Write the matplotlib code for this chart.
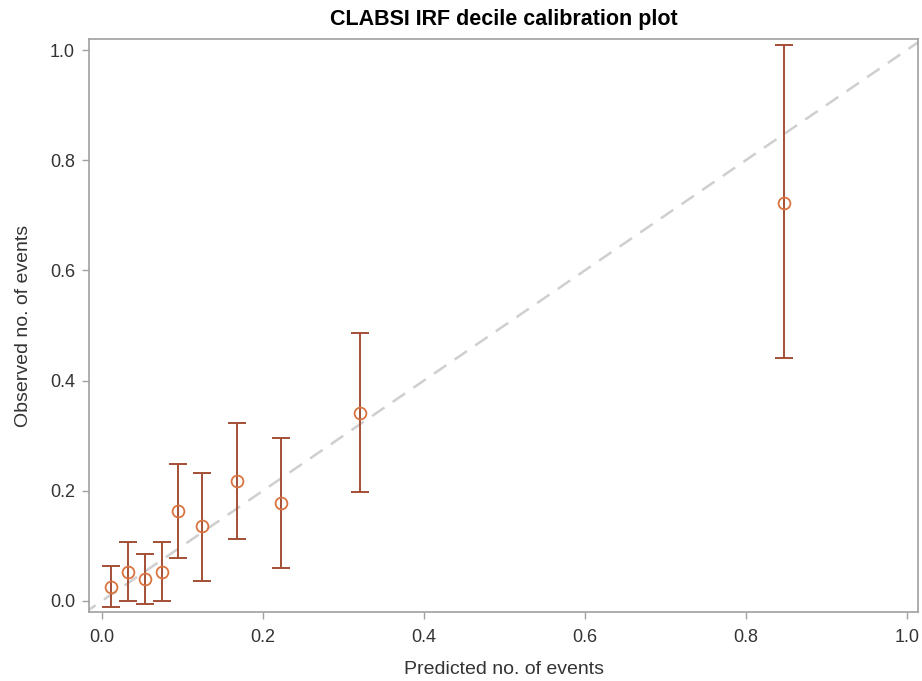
import numpy as np
import matplotlib.pyplot as plt

plt.rcParams['font.family'] = ['Liberation Sans', 'DejaVu Sans']

# decile calibration data
predicted = [0.011, 0.032, 0.054, 0.075, 0.095, 0.125, 0.168, 0.222, 0.321, 0.847]
observed = [0.026, 0.053, 0.040, 0.053, 0.163, 0.136, 0.217, 0.177, 0.341, 0.723]
lower = [-0.011, 0.000, -0.006, 0.000, 0.078, 0.037, 0.113, 0.059, 0.197, 0.441]
upper = [0.064, 0.107, 0.085, 0.107, 0.249, 0.233, 0.323, 0.296, 0.486, 1.009]
ticks = [0.0, 0.2, 0.4, 0.6, 0.8, 1.0]

obs = np.array(observed)
yerr = [obs - np.array(lower), np.array(upper) - obs]

fig = plt.figure(figsize=(9.22, 6.81), dpi=100)
ax = fig.add_axes([0.0965, 0.1013, 0.8992, 0.8414])

ax.plot([-0.1, 1.1], [-0.1, 1.1], linestyle=(0, (6, 4)), color='#cfcfcf', lw=1.8, zorder=1)

ax.errorbar(predicted, observed, yerr=yerr, fmt='none', ecolor='#a34f35',
            elinewidth=1.4, capsize=6.5, capthick=1.4, zorder=2)
ax.plot(predicted, observed, 'o', mfc='none', mec='#d9733f', ms=8.5, mew=1.3, zorder=3)

ax.set_xlim(-0.016, 1.014)
ax.set_ylim(-0.02, 1.02)
ax.set_xticks(ticks)
ax.set_yticks(ticks)
ax.set_xticklabels(['%.1f' % t for t in ticks])
ax.set_yticklabels(['%.1f' % t for t in ticks])

for s in ax.spines.values():
    s.set_color('#a0a0a0')
    s.set_linewidth(1.2)
ax.tick_params(colors='#a0a0a0', labelcolor='#333333', labelsize=13, length=5, width=1)
ax.tick_params(axis='x', pad=7)
ax.tick_params(axis='y', pad=5)

ax.set_xlabel('Predicted no. of events', fontsize=14, color='#333333', labelpad=11)
ax.set_ylabel('Observed no. of events', fontsize=14, color='#333333', labelpad=13)
ax.set_title('CLABSI IRF decile calibration plot', fontsize=15.5, fontweight='bold', pad=10)

fig.savefig('out.png', dpi=100)
